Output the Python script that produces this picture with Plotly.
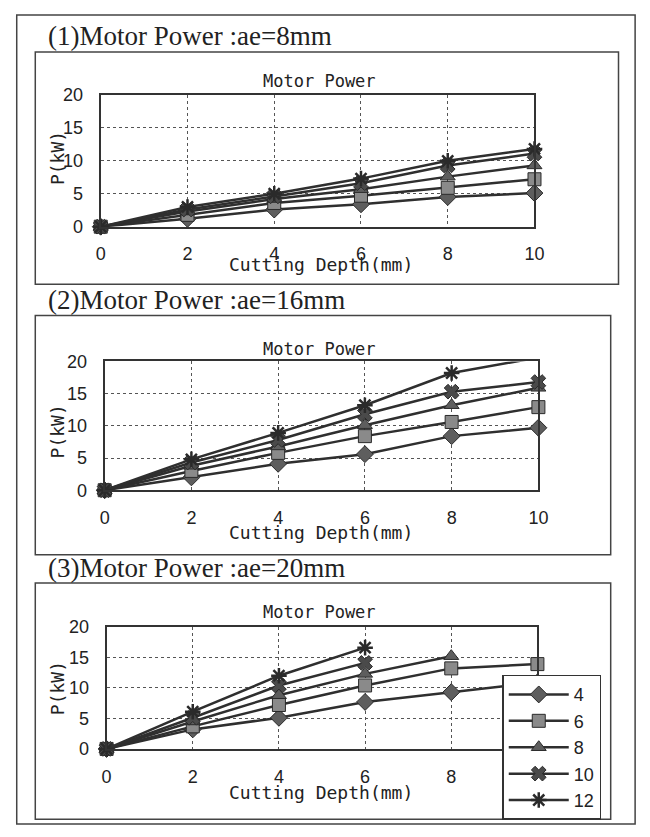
import plotly.graph_objects as go

W, H = 650, 837
depth = [0, 2, 4, 6, 8, 10]
series_names = ["4", "6", "8", "10", "12"]

# ae = 8 mm
p8_4 = [0, 1.2, 2.6, 3.4, 4.5, 5.1]
p8_6 = [0, 1.8, 3.6, 4.7, 5.9, 7.2]
p8_8 = [0, 2.3, 4.2, 5.7, 7.6, 9.3]
p8_10 = [0, 2.6, 4.6, 6.6, 9.3, 11.1]
p8_12 = [0, 3.0, 5.0, 7.3, 10.0, 11.8]
# ae = 16 mm
p16_4 = [0, 2.0, 4.1, 5.6, 8.4, 9.7]
p16_6 = [0, 3.0, 5.8, 8.4, 10.6, 12.9]
p16_8 = [0, 3.8, 6.8, 10.1, 13.2, 15.9]
p16_10 = [0, 4.3, 7.8, 11.8, 15.3, 16.8]
p16_12 = [0, 4.8, 8.9, 13.2, 18.2, 20.6]
# ae = 20 mm
p20_4 = [0, 3.2, 5.1, 7.7, 9.3, 10.9]
p20_6 = [0, 3.7, 7.2, 10.4, 13.2, 13.9]
p20_8 = [0, 4.5, 8.8, 12.3, 15.2, None]
p20_10 = [0, 5.1, 10.4, 14.1, None, None]
p20_12 = [0, 6.1, 12.0, 16.6, None, None]

section_titles = ["(1)Motor Power :ae=8mm", "(2)Motor Power :ae=16mm", "(3)Motor Power :ae=20mm"]
chart_title = "Motor Power"
x_title = "Cutting Depth(mm)"
y_title = "P(kW)"
x_ticks = [0, 2, 4, 6, 8, 10]
y_ticks = [0, 5, 10, 15, 20]

data_sets = [
    [p8_4, p8_6, p8_8, p8_10, p8_12],
    [p16_4, p16_6, p16_8, p16_10, p16_12],
    [p20_4, p20_6, p20_8, p20_10, p20_12],
]

def fx(px):
    return px / W

def fy(py):
    return 1 - py / H

symbols = ["diamond", "square", "triangle-up", "x", "asterisk"]
fills = ["#5e5e5e", "#8a8a8a", "#5e5e5e", "#4a4a4a", "#333333"]
LINE = "#2f2f2f"
SERIF = "Liberation Serif, Times New Roman, serif"
SANS = "Liberation Sans, Arial, sans-serif"
MONO = "DejaVu Sans Mono, Liberation Mono, monospace"

# plot areas in pixels: (left, right, top, bottom)
areas = [(98, 542, 87, 222), (102, 546, 360, 492), (104, 545, 632, 757)]
sec_title_y = [27, 297, 572]
chart_title_y = [73, 347, 617]
xtitle_y = [261, 535, 802]
ytitle_y = [152, 432, 695]
boxes = [(31, 43, 628, 281), (31, 313, 620, 558), (31, 587, 620, 829)]

fig = go.Figure()
layout = {}
annotations = []
shapes = []

for i, ds in enumerate(data_sets):
    sfx = "" if i == 0 else str(i + 1)
    xa, ya = "x" + sfx, "y" + sfx
    for j, vals in enumerate(ds):
        sym = symbols[j]
        mline = dict(color="#2a2a2a", width=2.5 if sym == "asterisk" else 1)
        fig.add_trace(go.Scatter(
            x=depth, y=vals, xaxis=xa, yaxis=ya, name=series_names[j],
            mode="lines+markers", showlegend=(i == 2),
            line=dict(color=LINE, width=2.5),
            marker=dict(symbol=sym, size=13, color=fills[j], line=mline),
            cliponaxis=False, connectgaps=False,
        ))
    l, r, t, b = areas[i]
    layout["xaxis" + sfx] = dict(
        domain=[fx(l), fx(r)], range=[0, 10], anchor=ya,
        tickvals=x_ticks, ticks="", showgrid=True, gridcolor="#555555", griddash="dot",
        gridwidth=1, showline=True, mirror=True, linecolor="#333333", linewidth=2,
        zeroline=False, tickfont=dict(family=SANS, size=18, color="#222222"),
        ticklabelstandoff=10,
    )
    layout["yaxis" + sfx] = dict(
        domain=[fy(b), fy(t)], range=[0, 20], anchor=xa,
        tickvals=y_ticks, ticks="", showgrid=True, gridcolor="#555555", griddash="dot",
        gridwidth=1, showline=True, mirror=True, linecolor="#333333", linewidth=2,
        zeroline=False, tickfont=dict(family=SANS, size=18, color="#222222"),
        ticklabelstandoff=12,
    )
    annotations.append(dict(text=section_titles[i], x=fx(42), y=fy(sec_title_y[i]), xref="paper",
                            yref="paper", xanchor="left", yanchor="middle", showarrow=False,
                            font=dict(family=SERIF, size=27, color="#222222")))
    annotations.append(dict(text=chart_title, x=fx(322), y=fy(chart_title_y[i]), xref="paper",
                            yref="paper", xanchor="center", yanchor="middle", showarrow=False,
                            font=dict(family=MONO, size=17, color="#222222")))
    annotations.append(dict(text=x_title, x=fx(323), y=fy(xtitle_y[i]), xref="paper",
                            yref="paper", xanchor="center", yanchor="middle", showarrow=False,
                            font=dict(family=MONO, size=18, color="#222222")))
    annotations.append(dict(text=y_title, x=fx(54), y=fy(ytitle_y[i]), xref="paper",
                            yref="paper", xanchor="center", yanchor="middle", showarrow=False,
                            textangle=-90, font=dict(family=MONO, size=18, color="#222222")))
    x0, y0, x1, y1 = boxes[i]
    shapes.append(dict(type="rect", xref="paper", yref="paper", x0=fx(x0), x1=fx(x1),
                       y0=fy(y1), y1=fy(y0), line=dict(color="#444444", width=1.5)))

shapes.append(dict(type="rect", xref="paper", yref="paper", x0=fx(12), x1=fx(645),
                   y0=fy(834), y1=fy(5), line=dict(color="#444444", width=1.5)))

fig.update_layout(
    width=W, height=H, margin=dict(l=0, r=0, t=0, b=0),
    paper_bgcolor="white", plot_bgcolor="white",
    annotations=annotations, shapes=shapes,
    legend=dict(x=fx(509), y=fy(681), xanchor="left", yanchor="top",
                bgcolor="white", bordercolor="#333333", borderwidth=1.5,
                font=dict(family=SANS, size=18, color="#222222"),
                itemwidth=60, tracegroupgap=0),
    **layout,
)

fig.write_html("out.html")
